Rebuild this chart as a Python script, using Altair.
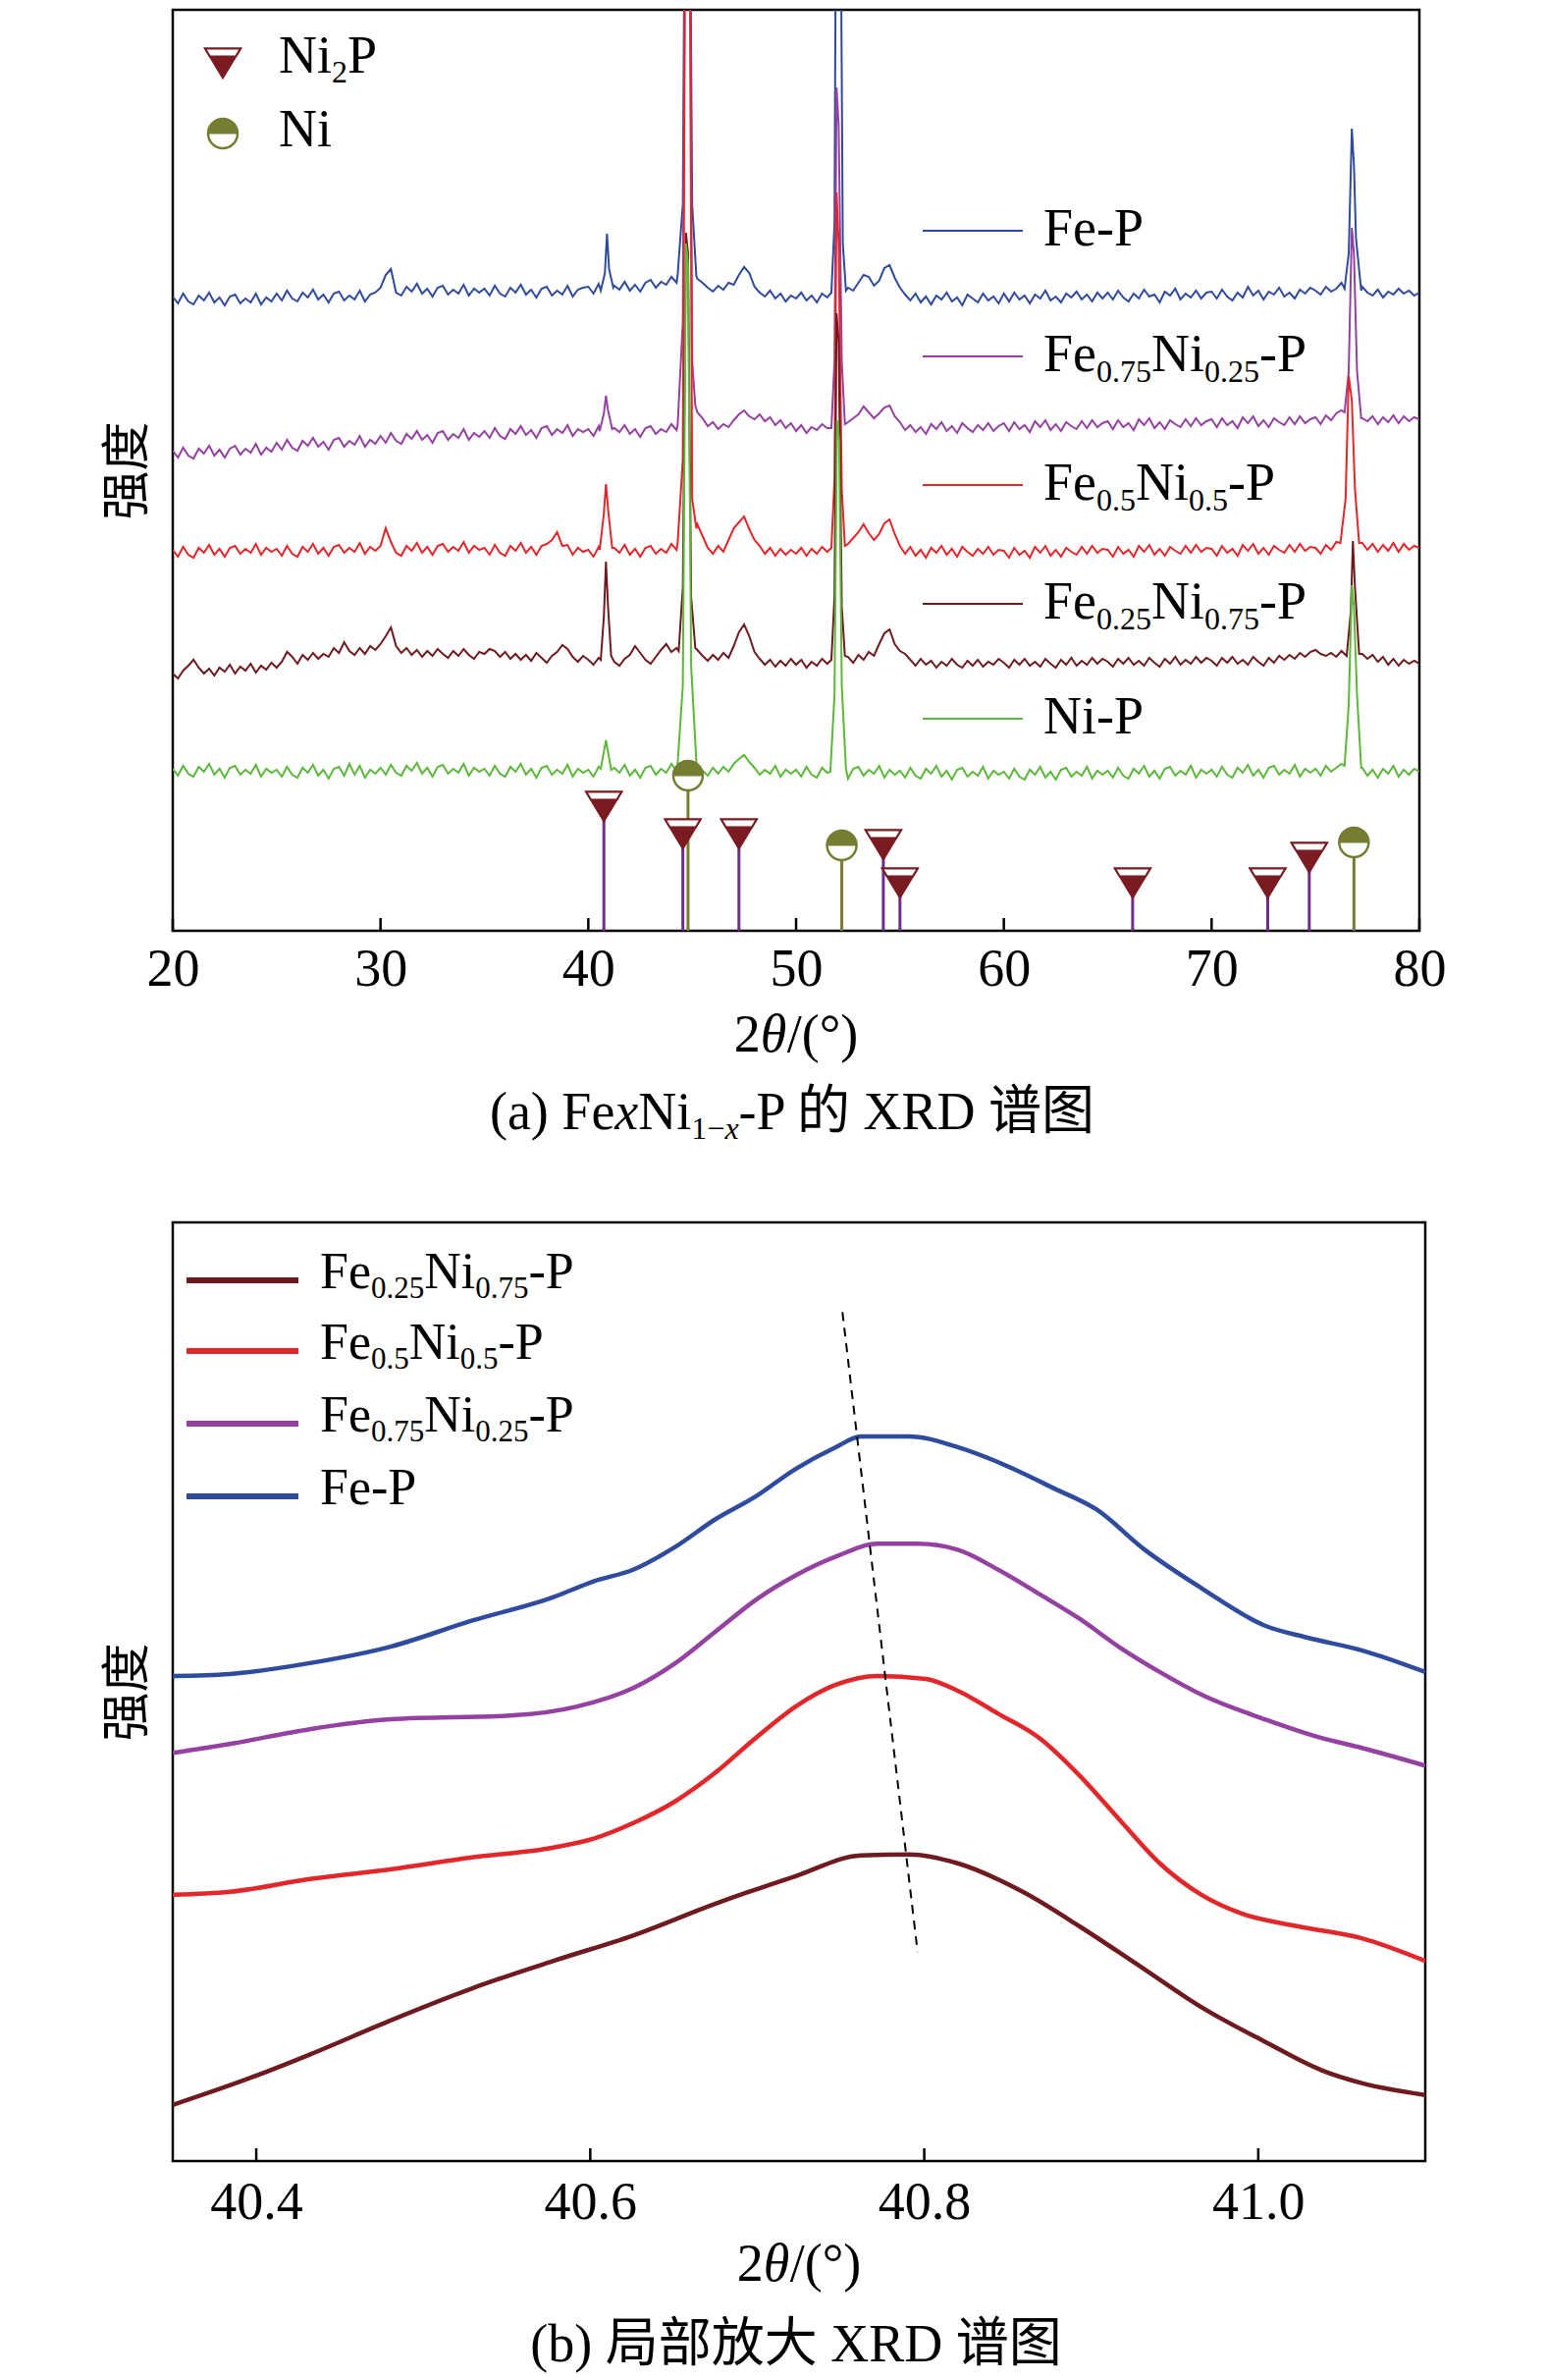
import altair as alt
import pandas as pd

FONT = "Liberation Serif, Noto Sans CJK SC"
SERIF = "Liberation Serif"
CJK = "Noto Sans CJK SC"

BLUE = "#2f4b9d"
MAGENTA = "#9541a2"
RED = "#e2272b"
DARKRED = "#6e1a1f"
GREEN = "#5cb83a"
PURPLE = "#6f2c8f"
OLIVE = "#767d30"
MARK_RED = "#7a1b22"

# ---- (a) full patterns: baseline read every 0.25 deg, peaks read point by point (a.u.)
grid = [20 + 0.25 * i for i in range(241)]

fe_p_base = [
    646, 639, 649, 641, 638, 647, 642, 650, 640, 645, 637, 646, 648, 639, 644, 640, 649, 638, 645, 641,
    649, 642, 652, 644, 641, 650, 645, 653, 643, 648, 640, 649, 651, 642, 647, 643, 652, 641, 648, 650,
    655, 668, 674, 650, 647, 656, 651, 659, 649, 654, 646, 655, 657, 648, 653, 649, 658, 647, 654, 650,
    654, 647, 657, 649, 646, 655, 650, 658, 648, 653, 645, 654, 656, 647, 652, 648, 657, 646, 653, 655,
    656, 649, 659, 651, 650, 657, 653, 661, 652, 658, 651, 660, 663, 655, 661, 658, 666, 660, 668, 670,
    668, 664, 660, 655, 651, 657, 653, 660, 658, 668, 676, 670, 656, 650, 646, 652, 644, 649, 641, 647,
    644, 650, 642, 647, 640, 649, 645, 651, 652, 650, 655, 652, 660, 668, 666, 657, 662, 675, 678, 665,
    655, 648, 642, 649, 640, 646, 638, 647, 643, 650, 641, 645, 637, 648, 644, 640, 649, 642, 646, 639,
    649, 641, 650, 643, 647, 639, 648, 644, 652, 642, 646, 640, 649, 645, 651, 643, 648, 641, 650, 644,
    650, 643, 652, 645, 641, 649, 644, 653, 646, 648, 640, 651, 647, 654, 643, 649, 645, 652, 644, 650,
    651, 644, 653, 646, 642, 650, 645, 656, 647, 652, 643, 651, 648, 655, 646, 650, 644, 653, 649, 655,
    652, 648, 656, 651, 654, 660, 662, 664, 660, 656, 650, 647, 653, 645, 651, 648, 654, 649, 652, 647,
    650]
fe_p_peaks = [
    [(40.6, 652), (40.8, 670), (40.9, 710), (41.0, 674), (41.2, 655)],
    [(44.3, 668), (44.55, 740), (44.68, 1200), (44.85, 1200), (45.0, 740), (45.2, 667)],
    [(51.7, 650), (51.85, 720), (51.95, 1200), (52.1, 1200), (52.25, 700), (52.4, 652)],
    [(76.4, 654), (76.6, 690), (76.75, 817), (76.85, 780), (76.95, 705), (77.2, 652)],
]

fe75_base = [
    489, 482, 492, 484, 481, 491, 486, 494, 484, 490, 482, 491, 494, 485, 491, 487, 496, 485, 492, 488,
    497, 490, 500, 492, 489, 499, 494, 502, 493, 498, 490, 500, 502, 493, 499, 495, 504, 493, 500, 496,
    504, 497, 507, 499, 496, 506, 501, 509, 500, 505, 497, 507, 509, 500, 506, 502, 511, 500, 507, 503,
    509, 502, 512, 504, 501, 511, 506, 514, 505, 510, 502, 512, 514, 505, 511, 507, 515, 504, 511, 508,
    511, 504, 514, 506, 503, 512, 508, 515, 506, 511, 503, 512, 514, 506, 511, 508, 516, 510, 518, 522,
    535, 528, 522, 514, 518, 511, 516, 513, 520, 526, 530, 524, 521, 526, 519, 523, 515, 520, 512, 517,
    509, 515, 507, 513, 510, 516, 512, 517, 515, 520, 518, 522, 526, 534, 528, 522, 527, 533, 535, 524,
    518, 510, 515, 508, 513, 506, 516, 511, 518, 509, 514, 507, 517, 512, 508, 515, 510, 517, 509, 514,
    517, 509, 518, 511, 515, 508, 519, 513, 520, 510, 516, 509, 518, 514, 511, 519, 512, 520, 513, 517,
    519, 511, 520, 513, 517, 510, 521, 515, 522, 512, 518, 511, 520, 516, 513, 521, 514, 522, 515, 519,
    521, 513, 522, 515, 519, 512, 523, 517, 524, 514, 520, 513, 522, 518, 515, 523, 516, 524, 517, 521,
    523, 516, 525, 520, 527, 530, 532, 528, 524, 522, 519, 524, 516, 523, 518, 525, 517, 524, 519, 523,
    521]
fe75_peaks = [
    [(40.55, 509), (40.75, 527), (40.85, 545), (40.95, 530), (41.15, 511)],
    [(44.3, 515), (44.55, 620), (44.7, 1200), (44.85, 1200), (45.0, 580), (45.15, 535)],
    [(51.7, 512), (51.85, 580), (51.95, 859), (52.05, 820), (52.2, 580), (52.35, 516)],
    [(76.4, 528), (76.6, 570), (76.75, 716), (76.85, 690), (77.0, 570), (77.2, 522)],
]

fe50_base = [
    388, 381, 391, 383, 380, 390, 385, 393, 383, 389, 381, 390, 392, 384, 389, 385, 394, 383, 390, 386,
    389, 382, 392, 384, 381, 391, 386, 394, 384, 390, 382, 391, 393, 385, 390, 386, 395, 384, 391, 387,
    392, 410, 396, 385, 382, 392, 387, 395, 385, 391, 383, 392, 394, 386, 391, 387, 396, 385, 392, 388,
    390, 383, 393, 385, 382, 392, 387, 395, 385, 391, 383, 392, 394, 398, 406, 392, 393, 383, 390, 386,
    388, 381, 391, 383, 380, 390, 385, 393, 383, 389, 381, 390, 392, 384, 389, 385, 394, 388, 396, 400,
    405, 414, 402, 390, 384, 392, 386, 398, 410, 416, 422, 409, 398, 392, 384, 390, 382, 389, 383, 388,
    384, 390, 382, 389, 384, 391, 386, 392, 390, 395, 394, 400, 406, 414, 405, 398, 404, 415, 419, 404,
    392, 384, 391, 382, 388, 380, 390, 385, 392, 383, 389, 381, 391, 386, 382, 389, 384, 391, 383, 388,
    387, 380, 390, 383, 387, 380, 391, 385, 392, 382, 388, 381, 390, 386, 383, 391, 384, 392, 385, 389,
    388, 381, 391, 384, 388, 381, 392, 386, 393, 383, 389, 382, 391, 387, 384, 392, 385, 393, 386, 390,
    389, 382, 392, 385, 389, 382, 393, 387, 394, 384, 390, 383, 392, 388, 385, 393, 386, 394, 387, 391,
    390, 384, 393, 388, 396, 400, 404, 398, 392, 395, 388, 394, 386, 393, 387, 395, 386, 394, 388, 392,
    390]
fe50_peaks = [
    [(40.55, 388), (40.75, 425), (40.85, 455), (40.95, 430), (41.15, 390)],
    [(44.3, 395), (44.55, 480), (44.7, 1200), (44.85, 1200), (45.0, 440), (45.2, 410)],
    [(51.7, 390), (51.85, 460), (51.95, 752), (52.05, 700), (52.2, 450), (52.35, 392)],
    [(76.2, 395), (76.45, 440), (76.6, 565), (76.75, 540), (76.9, 450), (77.1, 395)],
]

fe25_base = [
    262, 257, 265, 270, 276, 268, 262, 267, 260, 268, 264, 271, 262, 269, 265, 272, 263, 270, 266, 273,
    268, 274, 284, 279, 272, 281, 276, 283, 277, 282, 279, 288, 283, 294, 285, 281, 288, 282, 290, 286,
    292, 300, 309, 290, 283, 288, 281, 286, 279, 285, 280, 287, 282, 278, 285, 280, 287, 281, 277, 284,
    282, 287, 285, 279, 284, 277, 282, 276, 281, 275, 283, 278, 273, 280, 284, 291, 287, 279, 274, 280,
    276, 271, 278, 273, 279, 274, 270, 277, 281, 290, 283, 276, 272, 279, 286, 292, 284, 288, 290, 295,
    292, 286, 280, 275, 281, 276, 283, 278, 290, 304, 312, 300, 284, 277, 271, 276, 269, 275, 270, 277,
    271, 276, 268, 274, 270, 277, 272, 278, 280, 282, 279, 273, 281, 276, 284, 280, 292, 303, 307, 292,
    285, 282, 276, 270, 277, 271, 275, 268, 274, 270, 277, 271, 268, 275, 270, 276, 269, 274, 271, 277,
    273, 268, 276, 271, 277, 270, 274, 269, 277, 272, 268, 276, 271, 278, 270, 275, 271, 278, 272, 277,
    274, 269, 277, 272, 278, 271, 275, 270, 278, 273, 269, 277, 272, 279, 271, 276, 272, 279, 273, 278,
    275, 270, 278, 273, 279, 272, 276, 271, 279, 274, 270, 278, 273, 280, 276, 281, 277, 283, 279, 284,
    286, 282, 280, 283, 279, 285, 288, 290, 286, 282, 277, 281, 274, 279, 271, 277, 270, 276, 272, 275,
    272]
fe25_peaks = [
    [(40.6, 276), (40.75, 320), (40.85, 376), (40.95, 330), (41.1, 280)],
    [(44.35, 285), (44.55, 350), (44.7, 711), (44.8, 690), (44.95, 340), (45.15, 288)],
    [(51.7, 276), (51.85, 340), (51.95, 629), (52.05, 600), (52.2, 330), (52.35, 280)],
    [(76.5, 280), (76.7, 325), (76.8, 397), (76.9, 350), (77.1, 282)],
]

ni_p_base = [
    165, 158, 168, 160, 157, 167, 162, 170, 159, 165, 156, 166, 168, 159, 164, 160, 169, 157, 165, 161,
    164, 157, 167, 159, 156, 166, 161, 169, 158, 164, 155, 165, 167, 158, 170, 159, 168, 156, 164, 160,
    166, 159, 169, 161, 158, 168, 163, 171, 160, 166, 157, 167, 169, 160, 165, 161, 170, 158, 166, 162,
    165, 158, 168, 160, 157, 167, 162, 170, 159, 165, 156, 166, 168, 159, 164, 160, 169, 157, 165, 161,
    164, 157, 167, 159, 156, 166, 161, 169, 158, 164, 156, 166, 168, 159, 165, 161, 170, 163, 168, 170,
    172, 168, 163, 158, 166, 160, 167, 162, 170, 175, 179, 172, 166, 159, 164, 160, 168, 157, 164, 160,
    164, 157, 167, 159, 156, 166, 161, 169, 164, 160, 155, 165, 167, 158, 164, 160, 168, 156, 164, 159,
    163, 156, 166, 158, 155, 165, 160, 168, 157, 163, 154, 164, 166, 157, 162, 158, 167, 155, 163, 159,
    162, 155, 165, 157, 154, 164, 159, 167, 156, 162, 154, 164, 166, 157, 162, 158, 167, 155, 163, 159,
    163, 156, 166, 158, 155, 165, 160, 168, 157, 163, 155, 165, 167, 158, 163, 159, 168, 156, 164, 160,
    164, 157, 167, 159, 156, 166, 161, 169, 158, 164, 156, 166, 168, 159, 164, 160, 169, 157, 165, 161,
    165, 158, 168, 162, 166, 170, 172, 168, 164, 166, 158, 164, 156, 165, 160, 168, 157, 164, 159, 165,
    162]
ni_p_peaks = [
    [(40.6, 165), (40.85, 194), (41.1, 164)],
    [(44.3, 170), (44.55, 250), (44.7, 700), (44.8, 680), (44.95, 270), (45.2, 172)],
    [(51.65, 162), (51.85, 240), (51.97, 520), (52.07, 500), (52.2, 250), (52.4, 165)],
    [(76.4, 168), (76.6, 230), (76.75, 352), (76.85, 330), (77.0, 240), (77.2, 166)],
]

# standard reference lines
ni2p_pos = [40.75, 44.55, 47.25, 54.2, 55.0, 66.2, 72.7, 74.7]
ni2p_mark = [127, 99, 99, 88, 49, 49, 49, 75]
ni_pos = [44.8, 52.2, 76.85]
ni_mark = [158, 87, 90]

top_ticks = [20, 30, 40, 50, 60, 70, 80]

# ---- (b) zoom on the 40.8 deg peak
b_fe_x = [40.350, 40.384, 40.432, 40.481, 40.529, 40.578, 40.602, 40.626, 40.651, 40.675,
          40.699, 40.723, 40.747, 40.762, 40.791, 40.820, 40.844, 40.878, 40.903, 40.932,
          40.966, 41.004, 41.029, 41.062, 41.100]
b_fe_y = [492, 494, 505, 522, 548, 572, 588, 600, 623, 651,
          674, 702, 724, 735, 735, 724, 709, 682, 661, 620,
          581, 543, 531, 518, 496]
b_fe75_x = [40.350, 40.384, 40.432, 40.481, 40.554, 40.592, 40.626, 40.651, 40.675, 40.699,
            40.723, 40.747, 40.772, 40.796, 40.820, 40.844, 40.869, 40.893, 40.917, 40.941,
            40.966, 41.004, 41.038, 41.062, 41.100]
b_fe75_y = [414, 423, 438, 448, 452, 461, 480, 505, 537, 569,
            594, 613, 626, 626, 620, 600, 575, 550, 521, 496,
            473, 448, 429, 419, 401]
b_fe50_x = [40.350, 40.384, 40.432, 40.481, 40.529, 40.578, 40.602, 40.626, 40.651, 40.675,
            40.699, 40.723, 40.747, 40.772, 40.801, 40.820, 40.844, 40.869, 40.893, 40.917,
            40.941, 40.966, 40.990, 41.024, 41.062, 41.100]
b_fe50_y = [270, 273, 286, 296, 308, 318, 327, 343, 365, 394,
            429, 461, 483, 492, 489, 477, 454, 429, 391, 346,
            302, 270, 251, 238, 226, 203]
b_fe25_x = [40.350, 40.399, 40.432, 40.481, 40.529, 40.578, 40.626, 40.675, 40.723, 40.762,
            40.791, 40.820, 40.859, 40.893, 40.927, 40.966, 41.004, 41.038, 41.062, 41.100]
b_fe25_y = [57, 86, 108, 143, 175, 203, 229, 261, 289, 310,
            311, 302, 273, 238, 200, 156, 121, 92, 79, 67]
shift_x = [40.751, 40.796]
shift_y = [861, 212]

bot_ticks = [40.4, 40.6, 40.8, 41.0]

# ---- text helpers (Times-like advance widths, em)
W = {"(": .333, ")": .333, "a": .444, "b": .5, " ": .25, "F": .556, "e": .444,
     "x": .444, "N": .722, "i": .278, "P": .556, "-": .333, "−": .564, "X": .722,
     "R": .667, "D": .722, "0": .5, "1": .5, "2": .5, "5": .5, "7": .5, ".": .25,
     "θ": .5, "/": .278, "°": .4}


def tw(s, fs):
    return fs * sum(W.get(c, 1.0) for c in s)


def rich(parts, x, y, fs, sfs=32, drop=10, center=False):
    total = sum(tw(t, sfs if s else fs) for t, s, _ in parts)
    cx = x - total / 2 if center else x
    rows = []
    for t, s, it in parts:
        f = sfs if s else fs
        rows.append({"t": t, "px": cx, "py": y + (drop if s else 0), "fs": f, "it": it})
        cx += tw(t, f)
    return rows


def text_layers(rows):
    df = pd.DataFrame(rows)
    out = []
    for it, style in [(False, "normal"), (True, "italic")]:
        part = df[df["it"] == it]
        if len(part) == 0:
            continue
        out.append(alt.Chart(part).mark_text(
            align="left", baseline="alphabetic", font=FONT, fontStyle=style, color="black"
        ).encode(
            x=alt.X("px:Q", scale=None, axis=None),
            y=alt.Y("py:Q", scale=None, axis=None),
            size=alt.Size("fs:Q", scale=None, legend=None),
            text="t:N",
        ))
    return out


def name_parts(name):
    if name in ("Fe-P", "Ni-P"):
        return [(name, False, False)]
    fe, ni = {"Fe0.75": ("0.75", "0.25"), "Fe0.5": ("0.5", "0.5"), "Fe0.25": ("0.25", "0.75")}[name.split("Ni")[0]]
    return [("Fe", False, False), (fe, True, False), ("Ni", False, False), (ni, True, False), ("-P", False, False)]


def px_rules(rows, width):
    return alt.Chart(pd.DataFrame(rows)).mark_rule(strokeWidth=width).encode(
        x=alt.X("x1:Q", scale=None, axis=None), x2="x2:Q",
        y=alt.Y("yy:Q", scale=None, axis=None),
        color=alt.Color("c:N", scale=None, legend=None),
    )


TRI = "M-1,-0.8L1,-0.8L0,0.85Z"
BAND = "M-1,-0.8L1,-0.8L0.73,-0.36L-0.73,-0.36Z"
CIRC = "M-1,0A1,1,0,1,1,1,0A1,1,0,1,1,-1,0Z"
HALF = "M-1,0A1,1,0,0,1,1,0Z"


def ni2p_marks(df, x, y):
    full = alt.Chart(df).mark_point(shape=TRI, size=1296, filled=True, fill=MARK_RED,
                                    stroke=MARK_RED, strokeWidth=2, opacity=1).encode(x=x, y=y)
    band = alt.Chart(df).mark_point(shape=BAND, size=1296, filled=True, fill="white",
                                    stroke=MARK_RED, strokeWidth=2, opacity=1).encode(x=x, y=y)
    return [full, band]


def ni_marks(df, x, y):
    ring = alt.Chart(df).mark_point(shape=CIRC, size=900, filled=True, fill="white",
                                    stroke=OLIVE, strokeWidth=2.5, opacity=1).encode(x=x, y=y)
    half = alt.Chart(df).mark_point(shape=HALF, size=900, filled=True, fill=OLIVE,
                                    stroke=OLIVE, strokeWidth=1, opacity=1).encode(x=x, y=y)
    return [ring, half]


def spectrum(base, peaks):
    pts = [(x, y) for x, y in zip(grid, base)
           if not any(p[0][0] <= x <= p[-1][0] for p in peaks)]
    for p in peaks:
        pts += p
    return pd.DataFrame(sorted(pts), columns=["x", "y"])


# ================= (a)
top_x = alt.X("x:Q", scale=alt.Scale(domain=[20, 80], nice=False, zero=False),
              axis=alt.Axis(values=top_ticks, format="d", ticks=False, domain=False, grid=False,
                            labelFont=SERIF, labelFontSize=54, labelColor="black", labelPadding=12,
                            labelFlush=False, labelOverlap=False, title=None))
top_y = alt.Y("y:Q", scale=alt.Scale(domain=[0, 938], nice=False, zero=False),
              axis=alt.Axis(labels=False, ticks=False, domain=False, grid=False, title="强度",
                            titleFont=CJK, titleFontSize=50, titleFontWeight="normal",
                            titleColor="black", titlePadding=21))

top_layers = [alt.Chart(pd.DataFrame({"x": top_ticks, "y": 0, "y2": 13})).mark_rule(
    color="black", strokeWidth=2.5).encode(x=top_x, y=top_y, y2="y2:Q")]

for base, peaks, col in [(fe_p_base, fe_p_peaks, BLUE), (fe75_base, fe75_peaks, MAGENTA),
                         (fe50_base, fe50_peaks, RED), (fe25_base, fe25_peaks, DARKRED),
                         (ni_p_base, ni_p_peaks, GREEN)]:
    top_layers.append(alt.Chart(spectrum(base, peaks)).mark_line(
        clip=True, color=col, strokeWidth=2).encode(x=top_x, y=top_y))

ni2p_df = pd.DataFrame({"x": ni2p_pos, "y": ni2p_mark, "y0": 0})
ni_df = pd.DataFrame({"x": ni_pos, "y": ni_mark, "y0": 0})
top_layers.append(alt.Chart(ni2p_df).mark_rule(color=PURPLE, strokeWidth=3).encode(x=top_x, y=top_y, y2="y0:Q"))
top_layers.append(alt.Chart(ni_df).mark_rule(color=OLIVE, strokeWidth=3).encode(x=top_x, y=top_y, y2="y0:Q"))
top_layers += ni2p_marks(ni2p_df, top_x, top_y)
top_layers += ni_marks(ni_df, top_x, top_y)

# phase legend (top left)
pxx = alt.X("px:Q", scale=None, axis=None)
pxy = alt.Y("py:Q", scale=None, axis=None)
top_layers += ni2p_marks(pd.DataFrame({"px": [51], "py": [54]}), pxx, pxy)
top_layers += ni_marks(pd.DataFrame({"px": [51], "py": [126]}), pxx, pxy)

top_names = ["Fe-P", "Fe0.75Ni0.25-P", "Fe0.5Ni0.5-P", "Fe0.25Ni0.75-P", "Ni-P"]
top_cols = [BLUE, MAGENTA, RED, DARKRED, GREEN]
top_rows = [225, 353, 484, 605, 722]
top_layers.append(px_rules([{"x1": 764, "x2": 866, "yy": r, "c": c} for r, c in zip(top_rows, top_cols)], 2.2))

texts = []
for n, r in zip(top_names, top_rows):
    texts += rich(name_parts(n), 887, r + 15, 54, 32, 11)
texts += rich([("Ni", False, False), ("2", True, False), ("P", False, False)], 108, 64, 54, 32, 10)
texts += rich([("Ni", False, False)], 108, 139, 54)
texts += rich([("2", False, False), ("θ", False, True), ("/(°)", False, False)], 635, 1061, 54, center=True)
texts += rich([("(a) Fe", False, False), ("x", False, True), ("Ni", False, False), ("1−", True, False),
               ("x", True, True), ("-P 的 XRD 谱图", False, False)], 632, 1140, 54, 32, 10, center=True)
top_layers += text_layers(texts)

top = alt.layer(*top_layers).properties(width=1270, height=938)

# ================= (b)
bot_x = alt.X("x:Q", scale=alt.Scale(domain=[40.35, 41.1], nice=False, zero=False),
              axis=alt.Axis(values=bot_ticks, format=".1f", ticks=False, domain=False, grid=False,
                            labelFont=SERIF, labelFontSize=54, labelColor="black", labelPadding=15,
                            labelFlush=False, labelOverlap=False, title=None))
bot_y = alt.Y("y:Q", scale=alt.Scale(domain=[0, 952], nice=False, zero=False),
              axis=alt.Axis(labels=False, ticks=False, domain=False, grid=False, title="强度",
                            titleFont=CJK, titleFontSize=50, titleFontWeight="normal",
                            titleColor="black", titlePadding=21))

bot_layers = [alt.Chart(pd.DataFrame({"x": bot_ticks, "y": 0, "y2": 13})).mark_rule(
    color="black", strokeWidth=2.5).encode(x=bot_x, y=bot_y, y2="y2:Q")]
for xs, ys, col in [(b_fe_x, b_fe_y, BLUE), (b_fe75_x, b_fe75_y, MAGENTA),
                    (b_fe50_x, b_fe50_y, RED), (b_fe25_x, b_fe25_y, DARKRED)]:
    bot_layers.append(alt.Chart(pd.DataFrame({"x": xs, "y": ys})).mark_line(
        clip=True, color=col, strokeWidth=4.5, interpolate="monotone").encode(x=bot_x, y=bot_y))
bot_layers.append(alt.Chart(pd.DataFrame({"x": shift_x, "y": shift_y})).mark_line(
    color="black", strokeWidth=2, strokeDash=[9, 7]).encode(x=bot_x, y=bot_y))

bot_names = ["Fe0.25Ni0.75-P", "Fe0.5Ni0.5-P", "Fe0.75Ni0.25-P", "Fe-P"]
bot_cols = [DARKRED, RED, MAGENTA, BLUE]
bot_rows = [59, 131, 205, 279]
bot_layers.append(px_rules([{"x1": 14, "x2": 128, "yy": r, "c": c} for r, c in zip(bot_rows, bot_cols)], 6))

btexts = []
for n, r in zip(bot_names, bot_rows):
    btexts += rich(name_parts(n), 150, r + 8, 52, 31, 10)
btexts += rich([("2", False, False), ("θ", False, True), ("/(°)", False, False)], 638, 1078, 54, center=True)
btexts += rich([("(b) 局部放大 XRD 谱图", False, False)], 635, 1160, 54, center=True)
bot_layers += text_layers(btexts)

bottom = alt.layer(*bot_layers).properties(width=1276, height=956)

chart = alt.vconcat(top, bottom, spacing=297, bounds="flush").properties(
    padding={"left": 95, "top": 0, "right": 20, "bottom": 10}, background="white"
).configure_view(stroke="black", strokeWidth=2.5)

chart.save("out.html", embed_options={"renderer": "svg", "actions": False})
